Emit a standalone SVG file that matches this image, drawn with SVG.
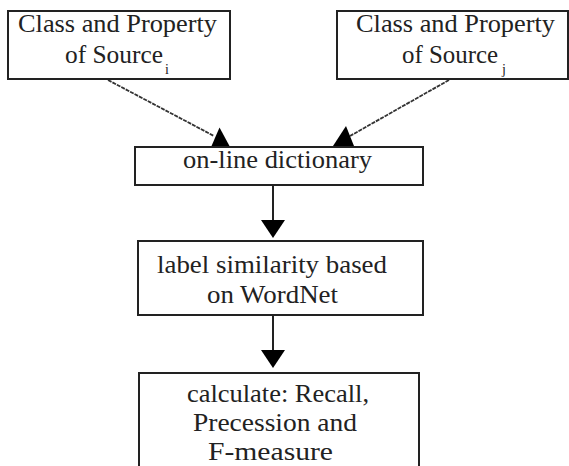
<svg xmlns="http://www.w3.org/2000/svg" width="569" height="466" viewBox="0 0 569 466">
<style>
.box{fill:#fff;stroke:#222;stroke-width:2}
.t{font-family:"Liberation Serif","Times New Roman",serif;font-size:25px;fill:#222}
.s{font-family:"Liberation Serif","Times New Roman",serif;font-size:14px;fill:#222}
.ln{stroke:#222;stroke-width:2;fill:none}
.ln2{stroke:#333;stroke-width:1.8;fill:none;stroke-dasharray:4 1}
.ah{fill:#000}
</style>
<rect width="569" height="466" fill="#fff"/>
<g id="connectors">
<line class="ln2" x1="108" y1="80" x2="214" y2="136"/>
<polygon class="ah" points="219.5,127.5 211.5,146 229.5,146"/>
<line class="ln2" x1="449" y1="80" x2="350" y2="136"/>
<polygon class="ah" points="346,126 333,146 354,146"/>
<line class="ln" x1="273" y1="185" x2="273" y2="222"/>
<polygon class="ah" points="261,220 285,220 273,238"/>
<line class="ln" x1="273" y1="315" x2="273" y2="352"/>
<polygon class="ah" points="261,350 285,350 273,368"/>
</g>
<g id="source-i">
<rect class="box" x="8" y="11" width="222" height="68"/>
<text class="t" x="18" y="32" textLength="199" lengthAdjust="spacingAndGlyphs">Class and Property</text>
<text class="t" x="65" y="63" textLength="98" lengthAdjust="spacingAndGlyphs">of Source</text>
<text class="s" x="165" y="74">i</text>
</g>
<g id="source-j">
<rect class="box" x="337" y="11" width="231" height="68"/>
<text class="t" x="356" y="32" textLength="199" lengthAdjust="spacingAndGlyphs">Class and Property</text>
<text class="t" x="402" y="63" textLength="96" lengthAdjust="spacingAndGlyphs">of Source</text>
<text class="s" x="502" y="74">j</text>
</g>
<g id="dictionary">
<rect class="box" x="135" y="147" width="288" height="38"/>
<text class="t" x="183" y="168" textLength="189" lengthAdjust="spacingAndGlyphs">on-line dictionary</text>
</g>
<g id="wordnet">
<rect class="box" x="138" y="241" width="285" height="74"/>
<text class="t" x="157" y="273" textLength="230" lengthAdjust="spacingAndGlyphs">label similarity based</text>
<text class="t" x="207" y="303" textLength="131" lengthAdjust="spacingAndGlyphs">on WordNet</text>
</g>
<g id="calculate">
<rect class="box" x="139" y="373" width="280" height="110"/>
<text class="t" x="187" y="402" textLength="182" lengthAdjust="spacingAndGlyphs">calculate: Recall,</text>
<text class="t" x="193" y="431" textLength="164" lengthAdjust="spacingAndGlyphs">Precession and</text>
<text class="t" x="208" y="460" textLength="125" lengthAdjust="spacingAndGlyphs">F-measure</text>
</g>
</svg>
